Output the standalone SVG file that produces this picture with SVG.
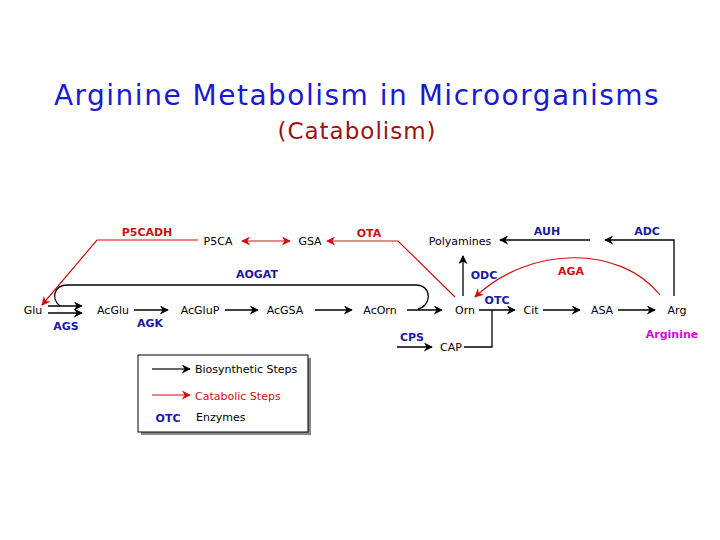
<svg xmlns="http://www.w3.org/2000/svg" width="720" height="540" viewBox="0 0 720 540">
<style>
text{font-family:"DejaVu Sans",sans-serif;font-size:11px;fill:#000}
.m{text-anchor:middle}
.e{font-weight:bold;fill:#1a1aa0;font-size:11px}
.r{fill:#d01010}
.k{stroke:#000;stroke-width:1.3;fill:none}
.rl{stroke:#d01010;stroke-width:1.2;fill:none}
</style>
<defs>
<marker id="a" viewBox="0 0 10 10" refX="9" refY="5" markerWidth="9" markerHeight="9" markerUnits="userSpaceOnUse" orient="auto-start-reverse"><path d="M0,0 L10,5 L0,10 L3,5 z" fill="#000"/></marker>
<marker id="ar" viewBox="0 0 10 10" refX="9" refY="5" markerWidth="9" markerHeight="9" markerUnits="userSpaceOnUse" orient="auto-start-reverse"><path d="M0,0 L10,5 L0,10 L3,5 z" fill="#d01010"/></marker>
</defs>
<rect width="720" height="540" fill="#fff"/>
<text x="357" y="105" class="m" style="font-size:28px;letter-spacing:1.5px;fill:#1a1ad0">Arginine Metabolism in Microorganisms</text>
<text x="357" y="139" class="m" style="font-size:23px;letter-spacing:1px;fill:#a01010">(Catabolism)</text>
<g id="connectors">
<path class="k" d="M48,306 H82" marker-end="url(#a)"/>
<path class="k" d="M48,313 H82" marker-end="url(#a)"/>
<path class="k" d="M134,310 H168" marker-end="url(#a)"/>
<path class="k" d="M225,310 H258" marker-end="url(#a)"/>
<path class="k" d="M315,310 H352" marker-end="url(#a)"/>
<path class="k" d="M407,310 H442" marker-end="url(#a)"/>
<path class="k" d="M479,310 H515" marker-end="url(#a)"/>
<path class="k" d="M543,310 H580" marker-end="url(#a)"/>
<path class="k" d="M618,310 H655" marker-end="url(#a)"/>
<path class="k" d="M60,306 C52,300 52,285 68,285 H416 C432,285 432,306 418,309"/>
<path class="k" d="M397,347 H432" marker-end="url(#a)"/>
<path class="k" d="M464,347 H492 V310"/>
<path class="k" d="M463,296 V256" marker-end="url(#a)"/>
<path class="k" d="M590,240 H500" marker-end="url(#a)"/>
<path class="k" d="M674,296 V240 H605" marker-end="url(#a)"/>
<path class="rl" d="M660,295 C620,245 530,245 475,297" marker-end="url(#ar)"/>
<path class="rl" d="M198,240 H97 L42,305" marker-end="url(#ar)"/>
<path class="rl" d="M242,241 H290" marker-start="url(#ar)" marker-end="url(#ar)"/>
<path class="rl" d="M455,297 L398,241 H327" marker-end="url(#ar)"/>
</g>
<g id="Glu"><text x="33" y="314" class="m">Glu</text></g>
<g id="AcGlu"><text x="113" y="314" class="m">AcGlu</text></g>
<g id="AcGluP"><text x="200" y="314" class="m">AcGluP</text></g>
<g id="AcGSA"><text x="285" y="314" class="m">AcGSA</text></g>
<g id="AcOrn"><text x="380" y="314" class="m">AcOrn</text></g>
<g id="Orn"><text x="465" y="314" class="m">Orn</text></g>
<g id="Cit"><text x="531" y="314" class="m">Cit</text></g>
<g id="ASA"><text x="602" y="314" class="m">ASA</text></g>
<g id="Arg"><text x="677" y="314" class="m">Arg</text></g>
<g id="CAP"><text x="451" y="351" class="m">CAP</text></g>
<g id="Polyamines"><text x="460" y="245" class="m">Polyamines</text></g>
<g id="P5CA"><text x="218" y="245" class="m">P5CA</text></g>
<g id="GSA"><text x="310" y="245" class="m">GSA</text></g>
<g id="labels">
<text x="147" y="236" class="m e r">P5CADH</text>
<text x="369" y="237" class="m e r">OTA</text>
<text x="257" y="278" class="m e">AOGAT</text>
<text x="66" y="330" class="m e">AGS</text>
<text x="150" y="327" class="m e">AGK</text>
<text x="412" y="341" class="m e">CPS</text>
<text x="484" y="279" class="m e">ODC</text>
<text x="497" y="304" class="m e">OTC</text>
<text x="547" y="235" class="m e">AUH</text>
<text x="647" y="235" class="m e">ADC</text>
<text x="571" y="275" class="m e r">AGA</text>
<text x="672" y="338" class="m e" style="fill:#d010d0">Arginine</text>
</g>
<g id="legend">
<rect x="141" y="358" width="170" height="77" fill="#888"/>
<rect x="138" y="355" width="170" height="77" fill="#fff" stroke="#000" stroke-width="1"/>
<path d="M152,369 H190" stroke="#333" stroke-width="1.3" marker-end="url(#a)"/>
<text x="195" y="373">Biosynthetic Steps</text>
<path class="rl" d="M152,395 H190" marker-end="url(#ar)"/>
<text x="195" y="400" class="r">Catabolic Steps</text>
<text x="168" y="422" class="m e">OTC</text>
<text x="196" y="421">Enzymes</text>
</g>
</svg>
